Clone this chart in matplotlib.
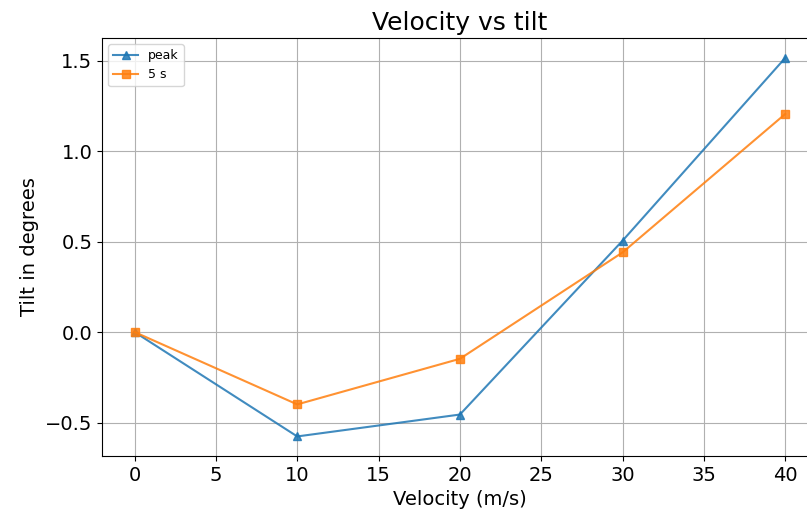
import matplotlib
matplotlib.use("Agg")
import matplotlib.pyplot as plt

# velocities and tilts
velocity = [0, 10, 20, 30, 40]
tilt_peak = [0.0, -0.577, -0.456, 0.505, 1.515]
tilt_5s = [0.0, -0.40, -0.148, 0.44, 1.205]

fig = plt.figure(figsize=(8.07, 5.15), dpi=100)
ax = fig.add_axes([0.1264, 0.1146, 0.887, 0.8117])

ax.plot(velocity, tilt_peak, marker='^', color='#1f77b4', alpha=0.85, label='peak')
ax.plot(velocity, tilt_5s, marker='s', color='#ff7f0e', alpha=0.85, label='5 s')

ax.set_xlim(-2, 42)
ax.set_ylim(-0.685, 1.625)
ax.set_title('Velocity vs tilt', fontsize=18)
ax.set_xlabel('Velocity (m/s)', fontsize=14)
ax.set_ylabel('Tilt in degrees', fontsize=14)
ax.tick_params(labelsize=14)
ax.grid(True)
ax.legend(loc='upper left', fontsize=9)

fig.savefig('out.png', dpi=100)
